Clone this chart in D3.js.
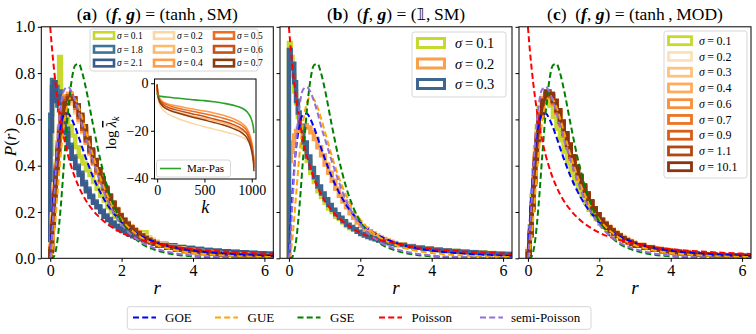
<!DOCTYPE html>
<html>
<head>
<meta charset="utf-8">
<script src="https://cdn.jsdelivr.net/npm/d3@7"></script>
<style>
  body { margin: 0; background: #fff; }
  svg { display: block; font-family: "Liberation Serif", serif; }
</style>
</head>
<body>
<div id="chart"></div>
<script>
// histogram bin edges (shared by all panels)
const binEdges = [0,0.05,0.1,0.15,0.2,0.25,0.3,0.4,0.5,0.6,0.7,0.8,0.9,1.0,1.1,1.2,1.3,1.4,1.5,1.6,1.7,1.8,1.9,
  2.0,2.1,2.2,2.3,2.4,2.5,2.6,2.7,2.8,2.9,3.0,
  3.25,3.5,3.75,4.0,4.25,4.5,4.75,5.0,5.25,5.5,5.75,6.0,6.25,6.5];

// panel (a): (tanh, SM)
const sigmaA = ['0.1','1.8','2.1','0.2','0.3','0.4','0.5','0.6','0.7'];
const histA01 = [0.45,0.70,0.74,0.68,0.76,0.87, 0.70,0.62,0.57,0.53,0.48,0.44,0.41,0.38,0.36,0.33,0.30,0.27,0.25,0.22,0.20,0.18,0.165,
  0.15,0.14,0.13,0.12,0.11,0.105,0.112,0.09,0.08,0.072,
  0.063,0.056,0.049,0.043,0.038,0.034,0.031,0.028,0.025,0.023,0.021,0.019,0.018,0.017];
const histA18 = [0.62,0.77,0.70,0.74,0.66,0.72, 0.62,0.56,0.49,0.44,0.40,0.37,0.33,0.30,0.27,0.245,0.225,0.205,0.185,0.17,0.155,0.14,0.13,
  0.12,0.112,0.104,0.097,0.09,0.085,0.08,0.075,0.07,0.066,
  0.062,0.055,0.049,0.044,0.04,0.036,0.033,0.03,0.028,0.026,0.024,0.022,0.02,0.019];
const histA21 = [0.55,0.74,0.76,0.68,0.70,0.64, 0.60,0.54,0.48,0.43,0.39,0.36,0.32,0.29,0.265,0.24,0.22,0.20,0.18,0.165,0.15,0.14,0.125,
  0.118,0.11,0.102,0.095,0.089,0.083,0.078,0.073,0.069,0.065,
  0.061,0.055,0.048,0.044,0.04,0.036,0.033,0.03,0.027,0.025,0.023,0.022,0.02,0.019];
const histA02 = [0.06,0.19,0.32,0.42,0.50,0.57, 0.64,0.68,0.69,0.67,0.63,0.59,0.545,0.50,0.45,0.41,0.37,0.335,0.30,0.27,0.24,0.215,0.19,
  0.17,0.155,0.14,0.127,0.115,0.104,0.094,0.085,0.077,0.07,
  0.06,0.05,0.042,0.036,0.031,0.027,0.023,0.02,0.018,0.016,0.014,0.013,0.012,0.011];
const histA03 = [0.05,0.18,0.31,0.41,0.50,0.57, 0.65,0.70,0.71,0.68,0.64,0.60,0.55,0.50,0.455,0.41,0.37,0.33,0.295,0.265,0.235,0.21,0.185,
  0.165,0.15,0.135,0.122,0.11,0.10,0.09,0.081,0.073,0.066,
  0.057,0.048,0.04,0.034,0.029,0.025,0.021,0.018,0.016,0.014,0.013,0.012,0.011,0.01];
const histA04 = [0.05,0.17,0.30,0.40,0.49,0.56, 0.64,0.70,0.71,0.69,0.65,0.60,0.55,0.50,0.455,0.41,0.37,0.33,0.295,0.265,0.235,0.21,0.185,
  0.165,0.15,0.135,0.122,0.11,0.10,0.09,0.081,0.073,0.066,
  0.057,0.048,0.04,0.034,0.029,0.025,0.021,0.018,0.016,0.014,0.013,0.012,0.011,0.01];
const histA05 = [0.04,0.16,0.29,0.39,0.48,0.56, 0.64,0.69,0.70,0.69,0.65,0.61,0.56,0.51,0.46,0.415,0.375,0.335,0.30,0.265,0.235,0.21,0.185,
  0.165,0.15,0.135,0.122,0.11,0.10,0.09,0.081,0.073,0.066,
  0.056,0.047,0.039,0.033,0.028,0.024,0.02,0.018,0.016,0.014,0.013,0.012,0.011,0.01];
const histA06 = [0.04,0.15,0.28,0.38,0.47,0.55, 0.63,0.68,0.70,0.69,0.66,0.61,0.56,0.51,0.465,0.42,0.38,0.34,0.30,0.27,0.24,0.21,0.185,
  0.165,0.148,0.133,0.12,0.108,0.097,0.087,0.078,0.07,0.063,
  0.055,0.046,0.038,0.032,0.027,0.023,0.02,0.017,0.015,0.013,0.012,0.011,0.01,0.009];
const histA07 = [0.03,0.14,0.27,0.37,0.46,0.54, 0.62,0.67,0.69,0.69,0.66,0.62,0.57,0.52,0.47,0.425,0.385,0.345,0.305,0.27,0.24,0.21,0.185,
  0.165,0.148,0.133,0.12,0.108,0.097,0.087,0.078,0.07,0.063,
  0.055,0.046,0.038,0.032,0.027,0.023,0.02,0.017,0.015,0.013,0.012,0.011,0.01,0.009];

// panel (b): (1, SM)
const sigmaB = ['0.1','0.2','0.3'];
const histB01 = [0.93,0.87,0.79,0.72,0.67,0.61, 0.55,0.48,0.42,0.37,0.33,0.29,0.265,0.24,0.215,0.20,0.18,0.17,0.155,0.14,0.13,0.125,0.115,
  0.108,0.101,0.095,0.089,0.084,0.079,0.075,0.071,0.067,0.064,
  0.059,0.052,0.047,0.042,0.038,0.035,0.032,0.029,0.027,0.025,0.023,0.021,0.02,0.018];
const histB02 = [0.42,0.46,0.50,0.53,0.55,0.56, 0.57,0.575,0.565,0.545,0.515,0.48,0.445,0.405,0.37,0.335,0.30,0.27,0.245,0.22,0.195,0.175,0.155,
  0.14,0.128,0.117,0.107,0.098,0.09,0.083,0.077,0.071,0.066,
  0.06,0.053,0.047,0.042,0.038,0.034,0.03,0.027,0.025,0.023,0.021,0.019,0.018,0.017];
const histB03 = [0.90,0.82,0.84,0.76,0.68,0.63, 0.57,0.50,0.44,0.39,0.35,0.31,0.28,0.255,0.23,0.21,0.19,0.175,0.16,0.145,0.135,0.125,0.115,
  0.105,0.098,0.092,0.087,0.082,0.077,0.073,0.069,0.065,0.062,
  0.057,0.051,0.046,0.041,0.037,0.034,0.031,0.028,0.026,0.024,0.022,0.02,0.019,0.018];

// panel (c): (tanh, MOD)
const sigmaC = ['0.1','0.2','0.3','0.4','0.6','0.7','0.9','1.1','10.1'];
const histC01 = [0.04,0.14,0.27,0.38,0.48,0.57, 0.65,0.70,0.69,0.66,0.61,0.56,0.51,0.46,0.41,0.37,0.33,0.30,0.27,0.24,0.21,0.19,0.17,
  0.15,0.137,0.125,0.113,0.102,0.092,0.083,0.075,0.068,0.061,
  0.054,0.045,0.038,0.032,0.027,0.023,0.02,0.017,0.015,0.013,0.012,0.011,0.01,0.009];
const histC02 = [0.04,0.13,0.25,0.36,0.46,0.55, 0.64,0.70,0.71,0.70,0.67,0.63,0.58,0.53,0.48,0.435,0.39,0.35,0.31,0.275,0.245,0.215,0.19,
  0.17,0.155,0.14,0.127,0.115,0.104,0.094,0.085,0.077,0.07,
  0.06,0.05,0.042,0.036,0.031,0.027,0.023,0.02,0.018,0.016,0.014,0.013,0.012,0.011];
const histC03 = [0.03,0.12,0.24,0.35,0.45,0.54, 0.63,0.69,0.71,0.70,0.67,0.63,0.58,0.53,0.48,0.43,0.385,0.345,0.305,0.27,0.24,0.21,0.185,
  0.165,0.15,0.135,0.122,0.11,0.10,0.09,0.081,0.073,0.066,
  0.057,0.048,0.04,0.034,0.029,0.025,0.021,0.018,0.016,0.014,0.013,0.012,0.011,0.01];
const histC04 = [0.03,0.12,0.24,0.35,0.45,0.54, 0.63,0.69,0.72,0.70,0.67,0.63,0.58,0.53,0.48,0.43,0.385,0.345,0.305,0.27,0.24,0.21,0.185,
  0.165,0.15,0.135,0.122,0.11,0.10,0.09,0.081,0.073,0.066,
  0.057,0.048,0.04,0.034,0.029,0.025,0.021,0.018,0.016,0.014,0.013,0.012,0.011,0.01];
const histC06 = [0.03,0.11,0.23,0.34,0.44,0.53, 0.62,0.69,0.71,0.70,0.675,0.635,0.585,0.535,0.485,0.435,0.39,0.35,0.31,0.275,0.245,0.215,0.19,
  0.165,0.148,0.133,0.12,0.108,0.097,0.087,0.078,0.07,0.063,
  0.055,0.046,0.038,0.032,0.027,0.023,0.02,0.017,0.015,0.013,0.012,0.011,0.01,0.009];
const histC07 = [0.03,0.11,0.23,0.34,0.44,0.53, 0.62,0.68,0.71,0.70,0.67,0.63,0.58,0.53,0.48,0.43,0.385,0.345,0.305,0.27,0.24,0.21,0.185,
  0.165,0.148,0.133,0.12,0.108,0.097,0.087,0.078,0.07,0.063,
  0.055,0.046,0.038,0.032,0.027,0.023,0.02,0.017,0.015,0.013,0.012,0.011,0.01,0.009];
const histC09 = [0.03,0.11,0.22,0.33,0.43,0.52, 0.62,0.68,0.71,0.70,0.68,0.64,0.59,0.54,0.49,0.44,0.39,0.35,0.31,0.275,0.245,0.215,0.19,
  0.165,0.148,0.133,0.12,0.108,0.097,0.087,0.078,0.07,0.063,
  0.055,0.046,0.038,0.032,0.027,0.023,0.02,0.017,0.015,0.013,0.012,0.011,0.01,0.009];
const histC11 = [0.02,0.10,0.22,0.33,0.43,0.52, 0.61,0.68,0.71,0.71,0.68,0.64,0.59,0.54,0.49,0.44,0.395,0.355,0.315,0.28,0.245,0.215,0.19,
  0.165,0.148,0.133,0.12,0.108,0.097,0.087,0.078,0.07,0.063,
  0.055,0.046,0.038,0.032,0.027,0.023,0.02,0.017,0.015,0.013,0.012,0.011,0.01,0.009];
const histC101 = [0.02,0.10,0.21,0.32,0.42,0.51, 0.61,0.68,0.72,0.71,0.68,0.64,0.59,0.54,0.49,0.44,0.395,0.355,0.315,0.28,0.245,0.215,0.19,
  0.165,0.148,0.133,0.12,0.108,0.097,0.087,0.078,0.07,0.063,
  0.055,0.046,0.038,0.032,0.027,0.023,0.02,0.017,0.015,0.013,0.012,0.011,0.01,0.009];

// reference distributions P(r)
const rGrid = [0,0.05,0.1,0.15,0.2,0.3,0.4,0.5,0.6,0.7,0.8,0.9,1.0,1.2,1.4,1.6,1.8,2.0,2.5,3.0,3.5,4.0,5.0,6.0,6.3];
const goe = [0,0.156,0.286,0.391,0.473,0.578,0.622,0.625,0.602,0.566,0.523,0.477,0.433,0.352,0.286,0.232,0.190,0.156,0.0995,0.0665,0.0463,0.0334,0.0189,0.0117,0.0103];
const gue = [0,0.0251,0.089,0.176,0.272,0.455,0.591,0.670,0.697,0.687,0.653,0.605,0.551,0.443,0.349,0.273,0.213,0.167,0.0946,0.0563,0.0352,0.0230,0.0109,0.0058,0.0048];
const gse = [0,0.0005,0.0071,0.0292,0.074,0.232,0.440,0.633,0.768,0.834,0.840,0.800,0.735,0.576,0.428,0.309,0.221,0.158,0.0703,0.0332,0.0167,0.0089,0.0030,0.0012,0.0008];
const poisson = [1,0.907,0.826,0.756,0.694,0.592,0.510,0.444,0.391,0.346,0.309,0.277,0.25,0.207,0.174,0.148,0.128,0.111,0.0816,0.0625,0.0494,0.04,0.0278,0.0204,0.0188];
const semiPoisson = [0,0.10,0.24,0.37,0.50,0.66,0.73,0.74,0.72,0.68,0.63,0.57,0.52,0.42,0.33,0.25,0.19,0.145,0.075,0.04,0.022,0.012,0.004,0.0015,0.001];
const refNames = ['GOE','GUE','GSE','Poisson','semi-Poisson'];

// inset: log of mean eigenvalues vs k
const kGrid = [0,5,15,40,100,200,300,400,500,600,700,800,900,950,990,1010,1020,1023];
const marPas = [-4,-5,-5.3,-5.5,-5.8,-6.2,-6.6,-7,-7.3,-7.8,-8.4,-9.2,-10.5,-12,-14.5,-17,-19.5,-21];
const lam02 = [-2,-5,-7.5,-10,-12.5,-14.5,-16,-17.2,-18.3,-19.3,-20.3,-21.3,-22.8,-24,-26.5,-29,-31,-32];
const lam03 = [-1,-4,-6.5,-8.5,-10.5,-12,-13,-14,-14.8,-15.7,-16.7,-18,-20,-21.5,-25,-28,-31,-33];
const lam04 = [-0.5,-3,-5,-7,-8.5,-9.5,-10.3,-11,-11.7,-12.5,-13.5,-14.8,-17,-19,-23,-27,-31,-33];
const lam05 = [-0.5,-3.5,-5.5,-7.5,-9,-10.3,-11.2,-12,-12.8,-13.7,-14.7,-16,-18,-20,-24,-28,-32,-34];
const lam06 = [-0.5,-4,-6,-8,-9.8,-11.2,-12.2,-13.1,-14,-15,-16,-17.3,-19.3,-21.3,-25.5,-29.5,-33,-35.5];
const lam07 = [-0.5,-4.5,-6.5,-8.8,-10.8,-12.3,-13.5,-14.5,-15.5,-16.5,-17.6,-19,-21,-23,-27,-31,-34.5,-37];

// ---- styles ----
const YG = '#c7d92c';
const colA = [YG,'#3a7597','#3b5b8c','#fdd7a0','#fdba6b','#fd9c4a','#eb6e23','#c4521a','#8d3b12'];
const colB = [YG,'#f9a04d','#3d6791'];
const colC = [YG,'#fee0b6','#fdc27f','#fdab5d','#f98e3b','#ee7424','#d75d1b','#b34714','#8a3510'];
const refColors = ['#0000ff','#ffa500','#008000','#ff0000','#9370db'];

const W = 756, H = 334;
const svg = d3.select('#chart').append('svg').attr('width', W).attr('height', H);

const plotTop = 26.8, plotBottom = 258.3, plotW = 232;
const panelLeft = [41.3, 280, 519];
const y = d3.scaleLinear().domain([0, 1]).range([plotBottom, plotTop]);

function stepPoints(vals) {
  const pts = [[binEdges[0], 0]];
  vals.forEach((v, j) => { pts.push([binEdges[j], v]); pts.push([binEdges[j + 1], v]); });
  pts.push([binEdges[binEdges.length - 1], 0]);
  return pts;
}

function drawPanel(idx, hists, colors, showYLabels) {
  const x0 = panelLeft[idx];
  const x = d3.scaleLinear().domain([-0.25, 6.25]).range([x0, x0 + plotW]);
  const g = svg.append('g');

  const clipId = 'clip' + idx;
  svg.append('clipPath').attr('id', clipId).append('rect')
    .attr('x', x0).attr('y', plotTop).attr('width', plotW).attr('height', plotBottom - plotTop);

  const plot = g.append('g').attr('clip-path', `url(#${clipId})`);
  const line = d3.line().x(d => x(d[0])).y(d => y(d[1]));

  hists.forEach((h, i) => {
    plot.append('path')
      .attr('d', line(stepPoints(h)))
      .attr('fill', 'none')
      .attr('stroke', colors[i])
      .attr('stroke-width', 4.5)
      .attr('stroke-linejoin', 'miter');
  });

  const smooth = d3.line().x(d => x(d[0])).y(d => y(d[1])).curve(d3.curveMonotoneX);
  [goe, gue, gse, poisson, semiPoisson].forEach((vals, i) => {
    plot.append('path')
      .attr('d', smooth(rGrid.map((r, j) => [r, vals[j]])))
      .attr('fill', 'none')
      .attr('stroke', refColors[i])
      .attr('stroke-width', 2)
      .attr('stroke-dasharray', '6,3.2');
  });

  // axes
  const xAxis = g.append('g').attr('transform', `translate(0,${plotBottom})`)
    .call(d3.axisBottom(x).tickValues([0, 2, 4, 6]).tickSize(3.5).tickPadding(3).tickFormat(d3.format('d')));
  const yAxis = g.append('g').attr('transform', `translate(${x0},0)`)
    .call(d3.axisLeft(y).tickValues([0, 0.2, 0.4, 0.6, 0.8, 1.0]).tickSize(3.5).tickPadding(2.5)
      .tickFormat(showYLabels ? d3.format('.1f') : ''));
  [xAxis, yAxis].forEach(a => {
    a.select('.domain').remove();
    a.selectAll('text').attr('font-family', '"Liberation Serif", serif').attr('font-size', 16).attr('fill', '#000');
  });

  g.append('rect')
    .attr('x', x0).attr('y', plotTop).attr('width', plotW).attr('height', plotBottom - plotTop)
    .attr('fill', 'none').attr('stroke', '#000').attr('stroke-width', 1);

  g.append('text')
    .attr('x', x(3)).attr('y', 294)
    .attr('text-anchor', 'middle')
    .attr('font-size', 19).attr('font-style', 'italic')
    .text('r');

  return { g, x };
}

function addTitle(g, cx, letter, fnText) {
  const t = g.append('text').attr('x', cx).attr('y', 19.5)
    .attr('text-anchor', 'middle').attr('font-size', 17.5);
  t.append('tspan').text('(');
  t.append('tspan').attr('font-weight', 'bold').text(letter);
  t.append('tspan').text(')\u2002(');
  t.append('tspan').attr('font-weight', 'bold').attr('font-style', 'italic').text('f');
  t.append('tspan').text(', ');
  t.append('tspan').attr('font-weight', 'bold').attr('font-style', 'italic').text('g');
  t.append('tspan').text(') = (');
  fnText(t);
  t.append('tspan').text(')');
}

function sigmaLabel(g, x, yy, val, size) {
  const t = g.append('text').attr('x', x).attr('y', yy).attr('dy', '0.35em').attr('font-size', size);
  t.append('tspan').attr('font-style', 'italic').text('σ');
  t.append('tspan').text('\u2009=\u2009' + val);
}

function legendBox(g, x, yy, w, h) {
  g.append('rect').attr('x', x).attr('y', yy).attr('width', w).attr('height', h)
    .attr('rx', 2.5).attr('fill', '#fff').attr('fill-opacity', 0.85)
    .attr('stroke', '#d6d6d6').attr('stroke-width', 1);
}

function patch(g, x, yc, w, h, color, sw) {
  g.append('rect').attr('x', x).attr('y', yc - h / 2).attr('width', w).attr('height', h)
    .attr('fill', 'none').attr('stroke', color).attr('stroke-width', sw);
}

// ---- panel (a) ----
const pa = drawPanel(0, [histA01, histA18, histA21, histA02, histA03, histA04, histA05, histA06, histA07], colA, true);
addTitle(pa.g, panelLeft[0] + plotW / 2, 'a', t => t.append('tspan').text('tanh\u2009,\u2009SM'));

legendBox(pa.g, 90, 29, 168, 42);
sigmaA.forEach((s, i) => {
  const col = Math.floor(i / 3), row = i % 3;
  const px = 94 + col * 60, py = 35.5 + row * 13.8;
  patch(pa.g, px, py, 20, 6.5, colA[i], 2.6);
  sigmaLabel(pa.g, px + 23, py, s, 9.5);
});

// inset
const inset = { x0: 154.5, x1: 256, y0: 79, y1: 179 };
const ix = d3.scaleLinear().domain([-28, 1045]).range([inset.x0, inset.x1]);
const iy = d3.scaleLinear().domain([-40.3, 1.8]).range([inset.y1, inset.y0]);
const ig = svg.append('g');
ig.append('rect').attr('x', inset.x0).attr('y', inset.y0)
  .attr('width', inset.x1 - inset.x0).attr('height', inset.y1 - inset.y0).attr('fill', '#fff');
svg.append('clipPath').attr('id', 'clipInset').append('rect')
  .attr('x', inset.x0).attr('y', inset.y0).attr('width', inset.x1 - inset.x0).attr('height', inset.y1 - inset.y0);
const iplot = ig.append('g').attr('clip-path', 'url(#clipInset)');
const iline = d3.line().x(d => ix(d[0])).y(d => iy(d[1])).curve(d3.curveMonotoneX);
[lam02, lam03, lam04, lam05, lam06, lam07].forEach((vals, i) => {
  iplot.append('path').attr('d', iline(kGrid.map((k, j) => [k, vals[j]])))
    .attr('fill', 'none').attr('stroke', colA[3 + i]).attr('stroke-width', 1.5);
});
iplot.append('path').attr('d', iline(kGrid.map((k, j) => [k, marPas[j]])))
  .attr('fill', 'none').attr('stroke', '#2ca02c').attr('stroke-width', 1.6);

const ixAxis = ig.append('g').attr('transform', `translate(0,${inset.y1})`)
  .call(d3.axisBottom(ix).tickValues([0, 500, 1000]).tickSize(3.5).tickPadding(2.5).tickFormat(d3.format('d')));
const iyAxis = ig.append('g').attr('transform', `translate(${inset.x0},0)`)
  .call(d3.axisLeft(iy).tickValues([0, -20, -40]).tickSize(3.5).tickPadding(2.5));
[ixAxis, iyAxis].forEach(a => {
  a.select('.domain').remove();
  a.selectAll('text').attr('font-family', '"Liberation Serif", serif').attr('font-size', 14).attr('fill', '#000');
});
ig.append('rect').attr('x', inset.x0).attr('y', inset.y0)
  .attr('width', inset.x1 - inset.x0).attr('height', inset.y1 - inset.y0)
  .attr('fill', 'none').attr('stroke', '#000');
ig.append('text').attr('x', (inset.x0 + inset.x1) / 2).attr('y', 213)
  .attr('text-anchor', 'middle').attr('font-size', 18).attr('font-style', 'italic').text('k');
const ylab = ig.append('text').attr('transform', 'translate(116,133) rotate(-90)')
  .attr('text-anchor', 'middle').attr('font-size', 15);
ylab.append('tspan').text('log\u2009');
ylab.append('tspan').attr('font-style', 'italic').attr('text-decoration', 'overline').text('λ');
ylab.append('tspan').attr('font-style', 'italic').attr('font-size', 10).attr('dy', 3).text('k');
// inset legend
legendBox(ig, 156.5, 160, 74, 17);
ig.append('line').attr('x1', 160).attr('x2', 181).attr('y1', 168.5).attr('y2', 168.5)
  .attr('stroke', '#2ca02c').attr('stroke-width', 1.6);
ig.append('text').attr('x', 187).attr('y', 168.5).attr('dy', '0.35em').attr('font-size', 11).text('Mar-Pas');

// ---- panel (b) ----
const pb = drawPanel(1, [histB01, histB02, histB03], colB, false);
addTitle(pb.g, panelLeft[1] + plotW / 2, 'b', t => {
  t.append('tspan').attr('font-family', '"DejaVu Sans", sans-serif').attr('font-size', 15).text('𝟙');
  t.append('tspan').text(',\u2009SM');
});
legendBox(pb.g, 412, 32, 94, 65);
sigmaB.forEach((s, i) => {
  const py = 43 + i * 20.5;
  patch(pb.g, 417.5, py, 27, 9, colB[i], 3);
  sigmaLabel(pb.g, 455, py, s, 14.5);
});

// ---- panel (c) ----
const pc = drawPanel(2, [histC01, histC02, histC03, histC04, histC06, histC07, histC09, histC11, histC101], colC, false);
addTitle(pc.g, panelLeft[2] + plotW / 2, 'c', t => t.append('tspan').text('tanh\u2009,\u2009MOD'));
legendBox(pc.g, 664, 31, 83, 147);
sigmaC.forEach((s, i) => {
  const py = 40.7 + i * 15.75;
  patch(pc.g, 668.5, py, 23, 8, colC[i], 2.8);
  sigmaLabel(pc.g, 699, py, s, 12);
});

// y label
svg.append('text').attr('transform', 'translate(16,142) rotate(-90)')
  .attr('text-anchor', 'middle').attr('font-size', 17)
  .call(t => {
    t.append('tspan').attr('font-style', 'italic').text('P');
    t.append('tspan').text('(');
    t.append('tspan').attr('font-style', 'italic').text('r');
    t.append('tspan').text(')');
  });

// bottom legend
const lg = svg.append('g');
legendBox(lg, 127.3, 306.7, 463.7, 22.6);
const handleX = [133, 215, 297.5, 379, 480];
const textX = [165, 247.5, 330, 411.5, 511];
refNames.forEach((name, i) => {
  lg.append('line').attr('x1', handleX[i]).attr('x2', handleX[i] + 23)
    .attr('y1', 317.5).attr('y2', 317.5)
    .attr('stroke', refColors[i]).attr('stroke-width', 2).attr('stroke-dasharray', '6,3.2');
  lg.append('text').attr('x', textX[i]).attr('y', 317.5).attr('dy', '0.35em')
    .attr('font-size', 13).text(name);
});
</script>
</body>
</html>
